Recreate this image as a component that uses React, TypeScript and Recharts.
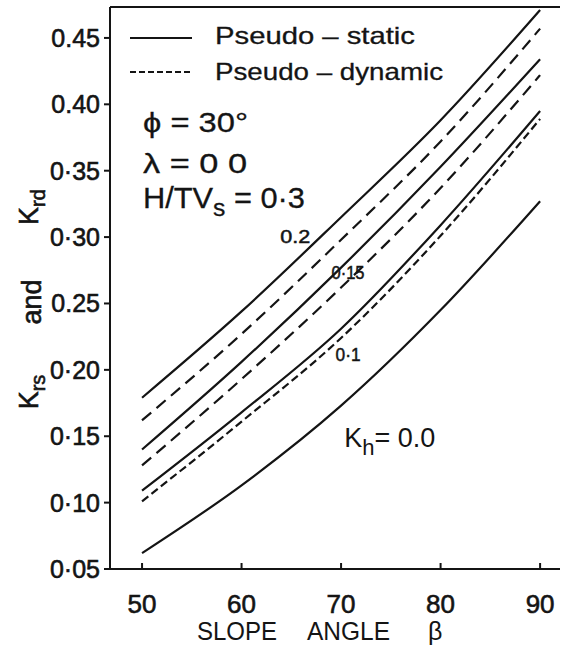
import {
  LineChart,
  Line,
  XAxis,
  YAxis,
  Legend,
  ReferenceLine,
  ReferenceDot,
} from "recharts";

// slope angle beta (deg)
const slopeAngles = [50, 60, 70, 80, 90];

// pseudo-static (solid) and pseudo-dynamic (dashed) coefficients
const kh00Static = [0.062, 0.113, 0.173, 0.245, 0.327];
const kh01Static = [0.109, 0.168, 0.231, 0.309, 0.395];
const kh01Dynamic = [0.101, 0.161, 0.224, 0.301, 0.389];
const kh015Static = [0.14, 0.206, 0.277, 0.353, 0.434];
const kh015Dynamic = [0.128, 0.193, 0.262, 0.337, 0.422];
const kh02Static = [0.179, 0.244, 0.315, 0.388, 0.471];
const kh02Dynamic = [0.162, 0.227, 0.298, 0.372, 0.457];

const xTicks = [50, 60, 70, 80, 90];
const yTicks = [0.05, 0.1, 0.15, 0.2, 0.25, 0.3, 0.35, 0.4, 0.45];
const yTickLabels = ["0·05", "0·10", "0·15", "0·20", "0.25", "0·30", "0·35", "0.40", "0.45"];

// curve labels: [text, beta, K, width px]
const curveLabels: [string, number, number, number][] = [
  ["0.2", 65.4, 0.301, 30],
  ["0·15", 70.7, 0.274, 33],
  ["0·1", 70.7, 0.212, 25],
];
const khZeroLabelAt = { beta: 74.9, k: 0.142 };

const X_DOMAIN: [number, number] = [46.78, 92.0];
const Y_DOMAIN: [number, number] = [0.05, 0.4733];

const INK = "#141414";
const FONT = "'Liberation Sans', Arial, sans-serif";
const LINE_W = 2.2;

const data = slopeAngles.map((beta, i) => ({
  beta,
  s00: kh00Static[i],
  s01: kh01Static[i],
  d01: kh01Dynamic[i],
  s015: kh015Static[i],
  d015: kh015Dynamic[i],
  s02: kh02Static[i],
  d02: kh02Dynamic[i],
}));

function XTick(props: any) {
  const { x, y, payload } = props;
  return (
    <g>
      <line x1={x} x2={x} y1={y} y2={y - 6} stroke={INK} strokeWidth={2} />
      <text
        x={x}
        y={y + 44}
        textAnchor="middle"
        fontFamily={FONT}
        fontSize={26}
        fill={INK}
        stroke={INK}
        strokeWidth={0.6}
      >
        {payload.value}
      </text>
    </g>
  );
}

function YTick(props: any) {
  const { x, y, payload } = props;
  const idx = yTicks.findIndex((t) => Math.abs(t - payload.value) < 1e-6);
  return (
    <g>
      <line x1={x} x2={x - 6} y1={y} y2={y} stroke={INK} strokeWidth={2} />
      <text
        x={x - 10}
        y={y + 9}
        textAnchor="end"
        fontFamily={FONT}
        fontSize={25}
        fill={INK}
        stroke={INK}
        strokeWidth={0.6}
      >
        {idx >= 0 ? yTickLabels[idx] : payload.value}
      </text>
    </g>
  );
}

function YLabel() {
  return (
    <g fontFamily={FONT} fontSize={27} fill={INK} stroke={INK} strokeWidth={0.6}>
      <text transform="translate(38,392) rotate(-90)" textAnchor="middle">
        K<tspan dy={7} fontSize={20}>rs</tspan>
      </text>
      <text transform="translate(41,302) rotate(-90)" textAnchor="middle">
        and
      </text>
      <text transform="translate(38,207) rotate(-90)" textAnchor="middle">
        K<tspan dy={7} fontSize={20}>rd</tspan>
      </text>
    </g>
  );
}

function XLabel() {
  return (
    <g fontFamily={FONT} fontSize={25} fill={INK}>
      <text x={197} y={640} textLength={80} lengthAdjust="spacingAndGlyphs">SLOPE</text>
      <text x={307} y={640} textLength={83} lengthAdjust="spacingAndGlyphs">ANGLE</text>
      <text x={428} y={640}>β</text>
    </g>
  );
}

function ChartLegend() {
  return (
    <svg
      width={563}
      height={645}
      style={{ position: "absolute", left: 0, top: 0, overflow: "visible" }}
    >
      <g fontFamily={FONT} fill={INK} stroke={INK} strokeWidth={0.3}>
        <line x1={130} x2={192} y1={38} y2={38} stroke={INK} strokeWidth={2} />
        <text x={215} y={44} fontSize={24} textLength={200} lengthAdjust="spacingAndGlyphs">
          Pseudo – static
        </text>
        <line x1={130} x2={192} y1={72} y2={72} stroke={INK} strokeWidth={2} strokeDasharray="6 3" />
        <text x={215} y={80} fontSize={24} textLength={228} lengthAdjust="spacingAndGlyphs">
          Pseudo – dynamic
        </text>
        <text x={143} y={132} fontSize={27} textLength={105} lengthAdjust="spacingAndGlyphs">
          ϕ = 30°
        </text>
        <text x={143} y={173} fontSize={27} textLength={104} lengthAdjust="spacingAndGlyphs">
          λ = 0 0
        </text>
        <text x={143} y={208} fontSize={30} textLength={162} lengthAdjust="spacingAndGlyphs">
          H/TV<tspan dy={8} fontSize={24}>s</tspan>
          <tspan dy={-8}> = 0·3</tspan>
        </text>
      </g>
    </svg>
  );
}

function centerOf(props: any) {
  const vb = props.viewBox || {};
  return { cx: vb.x + (vb.width || 0) / 2, cy: vb.y + (vb.height || 0) / 2 };
}

function CurveLabel(props: any) {
  const { cx, cy } = centerOf(props);
  return (
    <text
      x={cx - props.w / 2}
      y={cy + 7}
      fontFamily={FONT}
      fontSize={19}
      fill={INK}
      stroke={INK}
      strokeWidth={0.5}
      textLength={props.w}
      lengthAdjust="spacingAndGlyphs"
    >
      {props.text}
    </text>
  );
}

function KhZeroLabel(props: any) {
  const { cx, cy } = centerOf(props);
  return (
    <text x={cx} y={cy} textAnchor="middle" fontFamily={FONT} fontSize={27} fill={INK}>
      K<tspan dy={8} fontSize={22}>h</tspan>
      <tspan dy={-8}>= 0.0</tspan>
    </text>
  );
}

export default function App() {
  return (
    <div style={{ position: "absolute", left: 0, top: 0, background: "#fff" }}>
      <LineChart
        width={563}
        height={645}
        data={data}
        margin={{ top: 7, right: 3, bottom: 0, left: 0 }}
      >
        <XAxis
          dataKey="beta"
          type="number"
          domain={X_DOMAIN}
          ticks={xTicks}
          allowDataOverflow
          height={76}
          tickLine={false}
          tickSize={0}
          tickMargin={0}
          tick={<XTick />}
          axisLine={{ stroke: INK, strokeWidth: 2 }}
          label={{ content: () => <XLabel /> }}
        />
        <YAxis
          type="number"
          domain={Y_DOMAIN}
          ticks={yTicks}
          allowDataOverflow
          width={110}
          tickLine={false}
          tickSize={0}
          tickMargin={0}
          tick={<YTick />}
          axisLine={{ stroke: INK, strokeWidth: 2 }}
          label={{ content: () => <YLabel /> }}
        />
        <ReferenceLine y={Y_DOMAIN[1]} stroke={INK} strokeWidth={2} ifOverflow="visible" />
        <Legend
          content={() => <ChartLegend />}
          wrapperStyle={{ left: 0, top: 0, width: 0, height: 0 }}
        />

        <Line dataKey="s02" type="monotone" stroke={INK} strokeWidth={LINE_W} dot={false} isAnimationActive={false} />
        <Line dataKey="d02" type="monotone" stroke={INK} strokeWidth={LINE_W} strokeDasharray="12 7" dot={false} isAnimationActive={false} />
        <Line dataKey="s015" type="monotone" stroke={INK} strokeWidth={LINE_W} dot={false} isAnimationActive={false} />
        <Line dataKey="d015" type="monotone" stroke={INK} strokeWidth={LINE_W} strokeDasharray="12 7" dot={false} isAnimationActive={false} />
        <Line dataKey="s01" type="monotone" stroke={INK} strokeWidth={LINE_W} dot={false} isAnimationActive={false} />
        <Line dataKey="d01" type="monotone" stroke={INK} strokeWidth={LINE_W} strokeDasharray="8 4" dot={false} isAnimationActive={false} />
        <Line dataKey="s00" type="monotone" stroke={INK} strokeWidth={LINE_W} dot={false} isAnimationActive={false} />

        {curveLabels.map(([text, beta, k, w]) => (
          <ReferenceDot
            key={text}
            x={beta}
            y={k}
            r={1}
            fill="none"
            stroke="none"
            ifOverflow="visible"
            label={<CurveLabel text={text} w={w} />}
          />
        ))}
        <ReferenceDot
          x={khZeroLabelAt.beta}
          y={khZeroLabelAt.k}
          r={1}
          fill="none"
          stroke="none"
          ifOverflow="visible"
          label={<KhZeroLabel />}
        />
      </LineChart>
    </div>
  );
}
